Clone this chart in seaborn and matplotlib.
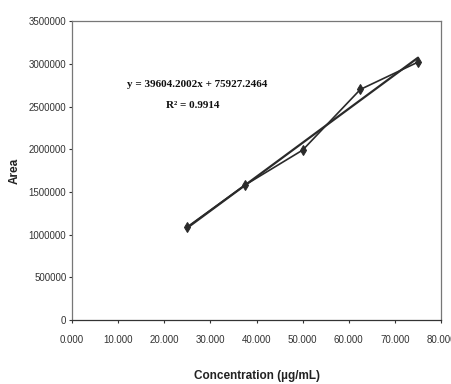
import matplotlib
matplotlib.use("Agg")
import matplotlib.pyplot as plt
import matplotlib.ticker as mticker
import seaborn as sns
import pandas as pd

concentration = [25.0, 37.5, 50.0, 62.5, 75.0]
area = [1090000, 1580000, 1990000, 2700000, 3020000]
equation_text = "y = 39604.2002x + 75927.2464"
r2_text = "R² = 0.9914"
x_ticks = [0, 10, 20, 30, 40, 50, 60, 70, 80]
y_ticks = [0, 500000, 1000000, 1500000, 2000000, 2500000, 3000000, 3500000]

df = pd.DataFrame({"Concentration": concentration, "Area": area})

sns.set_style("white")
sans = ['Liberation Sans Narrow', 'Liberation Sans', 'DejaVu Sans']
serif = ['Liberation Serif', 'DejaVu Serif']
plt.rcParams['font.family'] = sans

fig = plt.figure(figsize=(4.51, 3.84), dpi=100)
ax = fig.add_axes([0.1596, 0.1667, 0.8184, 0.7783])

sns.regplot(data=df, x="Concentration", y="Area", ax=ax, ci=None, scatter=False,
            line_kws=dict(color="#2a2a2a", lw=1.6))
sns.lineplot(data=df, x="Concentration", y="Area", ax=ax, color="#2a2a2a", lw=1.2,
             marker="d", markersize=5, markeredgecolor="#2a2a2a")

ax.set_xlim(0, 80)
ax.set_ylim(0, 3500000)
ax.set_xticks(x_ticks)
ax.set_yticks(y_ticks)
ax.xaxis.set_major_formatter(mticker.FuncFormatter(lambda v, p: f"{v:.3f}"))
ax.yaxis.set_major_formatter(mticker.FuncFormatter(lambda v, p: f"{int(v)}"))
ax.tick_params(axis="both", which="both", direction="out", length=2.5, width=0.8,
               labelsize=7, colors="#333333", bottom=True, left=True)
ax.tick_params(axis="y", pad=1.5)
ax.tick_params(axis="x", pad=8)

for s in ax.spines.values():
    s.set_color("#777777")
    s.set_linewidth(0.9)
ax.spines["bottom"].set_color("#333333")

ax.set_xlabel("Concentration (µg/mL)", fontsize=8.5, fontweight="bold", color="#222222", va="center")
ax.set_ylabel("Area", fontsize=8.5, fontweight="bold", color="#222222", va="center")
ax.xaxis.set_label_coords(0.5, -0.187)
ax.yaxis.set_label_coords(-0.154, 0.5)

ax.text(0.339, 0.789, equation_text, transform=ax.transAxes, ha="center", va="center",
        fontsize=8, fontweight="bold", family=serif, color="#111111")
ax.text(0.328, 0.719, r2_text, transform=ax.transAxes, ha="center", va="center",
        fontsize=8, fontweight="bold", family=serif, color="#111111")

fig.savefig("out.png", dpi=100, facecolor="white")
